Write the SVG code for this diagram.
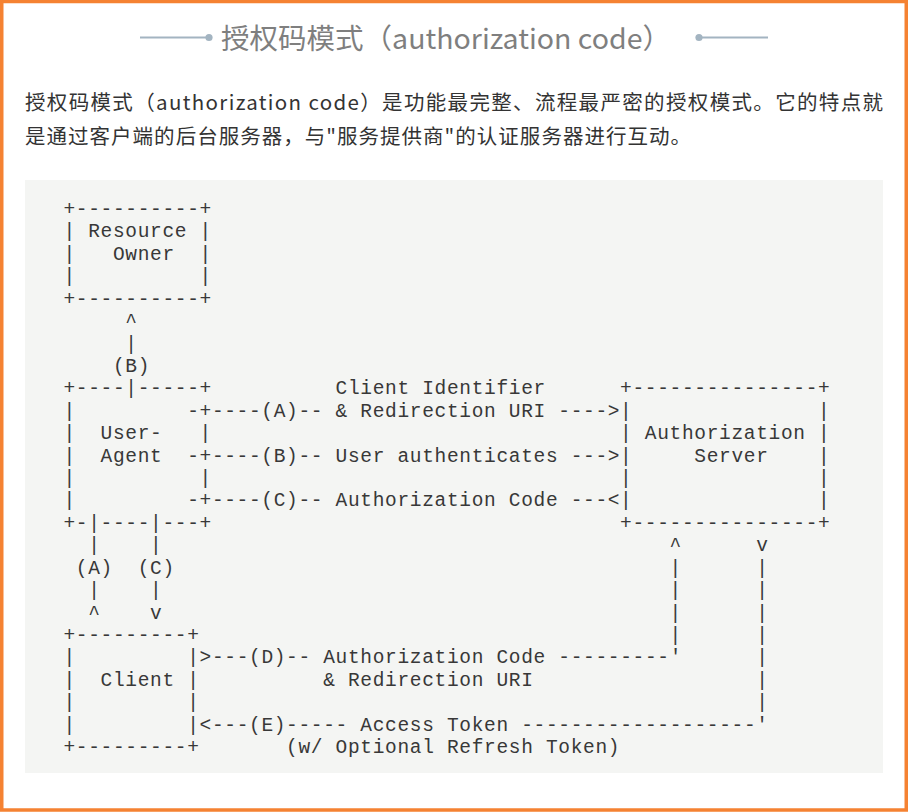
<svg xmlns="http://www.w3.org/2000/svg" width="908" height="812" viewBox="0 0 908 812">
<style>
.m{font-family:"Liberation Mono","DejaVu Sans Mono",monospace;font-size:19.5px;letter-spacing:0.67px;fill:#383838;white-space:pre}
.t{font-family:"Noto Sans CJK SC","Noto Sans",sans-serif}
.deco{stroke:#a3b4c1;stroke-width:2.2;fill:none}
</style>
<rect x="0" y="0" width="908" height="812" fill="#ffffff"/>
<rect x="1.75" y="1.5" width="904.5" height="808.5" fill="none" stroke="#f58232" stroke-width="3.5"/>
<g id="title">
<line class="deco" x1="140" y1="37.5" x2="208" y2="37.5"/>
<circle cx="209" cy="37.5" r="3.6" fill="#a3b4c1"/>
<circle cx="699" cy="37.5" r="3.6" fill="#a3b4c1"/>
<line class="deco" x1="700" y1="37.5" x2="768" y2="37.5"/>
<text class="t" x="221" y="48.5" font-size="28" fill="#7f7f7f" textLength="450" lengthAdjust="spacingAndGlyphs">授权码模式（authorization code）</text>
</g>
<g id="intro" class="t" font-size="20.5" fill="#333333">
<text x="25" y="110" textLength="858" lengthAdjust="spacing">授权码模式（authorization code）是功能最完整、流程最严密的授权模式。它的特点就</text>
<text x="25" y="143.5" textLength="666" lengthAdjust="spacing">是通过客户端的后台服务器，与&quot;服务提供商&quot;的认证服务器进行互动。</text>
</g>
<rect x="25" y="180" width="858" height="593" fill="#f4f5f3"/>
<g id="resource-owner" class="m">
<text xml:space="preserve" x="63.45" y="215">+----------+</text>
<text xml:space="preserve" x="63.45" y="237.42">| Resource |</text>
<text xml:space="preserve" x="63.45" y="259.84">|   Owner  |</text>
<text xml:space="preserve" x="63.45" y="282.26">|          |</text>
<text xml:space="preserve" x="63.45" y="304.68">+----------+</text>
</g>
<g id="user-agent" class="m">
<text xml:space="preserve" x="63.45" y="394.36">+----|-----+</text>
<text xml:space="preserve" x="63.45" y="416.78">|         -+</text>
<text xml:space="preserve" x="63.45" y="439.2">|  User-   |</text>
<text xml:space="preserve" x="63.45" y="461.62">|  Agent  -+</text>
<text xml:space="preserve" x="63.45" y="484.04">|          |</text>
<text xml:space="preserve" x="63.45" y="506.46">|         -+</text>
<text xml:space="preserve" x="63.45" y="528.88">+-|----|---+</text>
</g>
<g id="authorization-server" class="m">
<text xml:space="preserve" x="620.1" y="394.36">+---------------+</text>
<text xml:space="preserve" x="620.1" y="416.78">|               |</text>
<text xml:space="preserve" x="620.1" y="439.2">| Authorization |</text>
<text xml:space="preserve" x="620.1" y="461.62">|     Server    |</text>
<text xml:space="preserve" x="620.1" y="484.04">|               |</text>
<text xml:space="preserve" x="620.1" y="506.46">|               |</text>
<text xml:space="preserve" x="620.1" y="528.88">+---------------+</text>
</g>
<g id="client" class="m">
<text xml:space="preserve" x="63.45" y="640.98">+---------+</text>
<text xml:space="preserve" x="63.45" y="663.4">|         |</text>
<text xml:space="preserve" x="63.45" y="685.82">|  Client |</text>
<text xml:space="preserve" x="63.45" y="708.24">|         |</text>
<text xml:space="preserve" x="63.45" y="730.66">|         |</text>
<text xml:space="preserve" x="63.45" y="753.08">+---------+</text>
</g>
<g id="connectors" class="m">
<text xml:space="preserve" x="125.3" y="327.1">^</text>
<text xml:space="preserve" x="125.3" y="349.52">|</text>
<text xml:space="preserve" x="112.93" y="371.94">(B)</text>
<text xml:space="preserve" x="335.59" y="394.36">Client Identifier</text>
<text xml:space="preserve" x="211.89" y="416.78">----(A)-- &amp; Redirection URI ----&gt;</text>
<text xml:space="preserve" x="211.89" y="461.62">----(B)-- User authenticates ---&gt;</text>
<text xml:space="preserve" x="211.89" y="506.46">----(C)-- Authorization Code ---&lt;</text>
<text xml:space="preserve" x="88.19" y="551.3">|    |</text>
<text xml:space="preserve" x="75.82" y="573.72">(A)  (C)</text>
<text xml:space="preserve" x="88.19" y="596.14">|    |</text>
<text xml:space="preserve" x="88.19" y="618.56">^    v</text>
<text xml:space="preserve" x="669.58" y="551.3">^      v</text>
<text xml:space="preserve" x="669.58" y="573.72">|      |</text>
<text xml:space="preserve" x="669.58" y="596.14">|      |</text>
<text xml:space="preserve" x="669.58" y="618.56">|      |</text>
<text xml:space="preserve" x="669.58" y="640.98">|      |</text>
<text xml:space="preserve" x="199.52" y="663.4">&gt;---(D)-- Authorization Code ---------'      |</text>
<text xml:space="preserve" x="323.22" y="685.82">&amp; Redirection URI                  |</text>
<text xml:space="preserve" x="756.17" y="708.24">|</text>
<text xml:space="preserve" x="199.52" y="730.66">&lt;---(E)----- Access Token -------------------'</text>
<text xml:space="preserve" x="286.11" y="753.08">(w/ Optional Refresh Token)</text>
</g>
</svg>
